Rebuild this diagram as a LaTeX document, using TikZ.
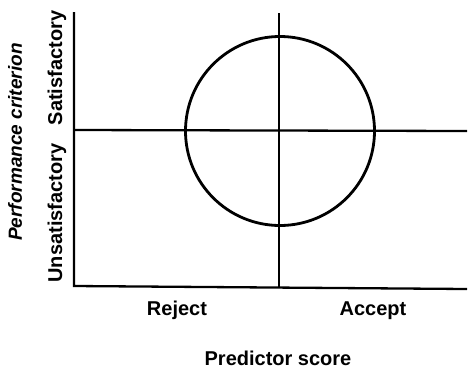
\documentclass[tikz,border=0pt]{standalone}
\usepackage{fontspec}
\setmainfont{Liberation Sans}
\usetikzlibrary{positioning}
\tikzset{
  axis line/.style={line width=2.3pt},
  label text/.style={font=\fontsize{20}{23}\selectfont\bfseries, inner sep=0pt},
}

\begin{document}
\begin{tikzpicture}[x=1pt,y=-1pt]
        \useasboundingbox (0,0) rectangle (468,370);

        \coordinate (T) at (74,12);
        \coordinate (O) at (74,286);
        \coordinate (R) at (467,289);
        \coordinate (ML) at (74,130);
        \coordinate (MR) at (467,131);
        \coordinate (VT) at (279,13);
        \coordinate (VB) at (279,288);

        \node[circle,draw,line width=2.8pt,minimum size=189pt,inner sep=0pt] (ring) at (280,131) {};

        \draw[axis line] (T) -- (O) -- (R);
        \draw[axis line] (ML) -- (MR);
        \draw[axis line] (VT) -- (VB);

        \node[label text,rotate=90] (sat) at (57,68) {Satisfactory};
        \node[label text,rotate=90] (unsat) at (57,213) {Unsatisfactory};
        \node[label text,rotate=90,font=\fontsize{19}{22}\selectfont\bfseries\itshape] (crit) at (15,142) {Performance criterion};
        \node[label text] (rej) at (177,310) {Reject};
        \node[label text] (acc) at (373,311) {Accept};
        \node[label text] (pred) at (278,358) {Predictor score};
    \end{tikzpicture}
\end{document}
